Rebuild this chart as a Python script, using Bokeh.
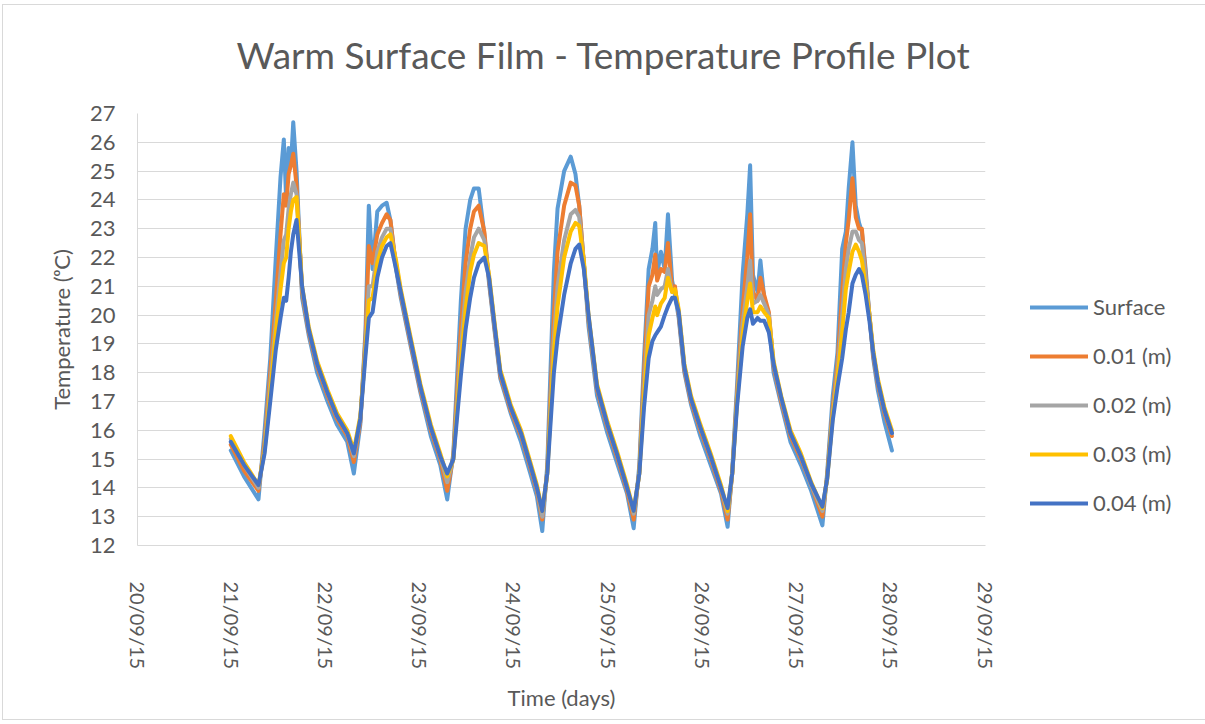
from datetime import datetime, timedelta

from bokeh.plotting import figure
from bokeh.models import (Range1d, FixedTicker, DatetimeTickFormatter, Legend,
                          LegendItem, ColumnDataSource, Title)
from bokeh.embed import file_html
from bokeh.resources import INLINE

# ---------------- data (days since 20/09/15 00:00) ----------------
days = [
    0.990, 1.130, 1.284, 1.349, 1.409, 1.468, 1.518, 1.553, 1.578, 1.604, 1.628, 1.653, 1.688, 1.747, 1.817, 1.907, 2.017, 2.116, 2.226, 2.296,
    2.365, 2.420, 2.455, 2.495, 2.545, 2.595, 2.644, 2.684, 2.744, 2.794, 2.894, 3.003, 3.113, 3.213, 3.287,
    3.352, 3.432, 3.482, 3.531, 3.571, 3.621, 3.681, 3.731, 3.791, 3.850, 3.960, 4.070, 4.169, 4.239, 4.296,
    4.349, 4.419, 4.458, 4.528, 4.598, 4.648, 4.688, 4.737, 4.787, 4.877, 4.987, 5.096, 5.196, 5.266,
    5.326, 5.376, 5.425, 5.465, 5.495, 5.515, 5.555, 5.595, 5.630, 5.674, 5.704, 5.744, 5.804, 5.874, 5.974, 6.083, 6.193, 6.263,
    6.312, 6.362, 6.422, 6.472, 6.502, 6.532, 6.581, 6.611, 6.651, 6.701, 6.751, 6.831, 6.930, 7.040, 7.150, 7.269,
    7.319, 7.379, 7.429, 7.479, 7.518, 7.548, 7.588, 7.623, 7.658, 7.688, 7.728, 7.768, 7.808, 7.857, 7.927, 8.007,
]

surface = [
    15.3, 14.4, 13.6, 16.0, 18.5, 22.0, 24.8, 26.1, 24.0, 25.8, 25.2, 26.7, 25.0, 20.6, 19.3, 18.0, 17.0, 16.2, 15.6, 14.5,
    16.2, 19.5, 23.8, 21.6, 23.6, 23.8, 23.9, 23.3, 21.6, 20.6, 19.0, 17.3, 15.8, 14.8, 13.6,
    15.2, 20.5, 23.0, 24.0, 24.4, 24.4, 22.8, 21.1, 19.4, 17.8, 16.6, 15.6, 14.5, 13.7, 12.5,
    14.8, 21.5, 23.7, 25.0, 25.5, 24.9, 23.8, 21.8, 19.6, 17.2, 15.9, 14.8, 13.8, 12.6,
    14.8, 18.5, 21.6, 22.3, 23.2, 21.4, 22.2, 21.6, 23.5, 21.2, 20.7, 19.9, 18.0, 16.9, 15.8, 14.8, 13.8, 12.65,
    14.6, 17.5, 21.4, 23.5, 25.2, 21.4, 20.8, 21.9, 20.6, 19.8, 18.0, 16.9, 15.6, 14.8, 13.9, 12.7,
    14.5, 17.2, 18.7, 22.3, 22.9, 24.4, 26.0, 23.8, 23.2, 22.9, 21.6, 20.0, 18.5, 17.4, 16.3, 15.3,
]

d001 = [
    15.5, 14.6, 13.9, 15.6, 18.0, 20.5, 22.8, 24.2, 23.8, 24.9, 25.2, 25.6, 24.5, 20.8, 19.4, 18.2, 17.2, 16.4, 15.8, 14.9,
    16.3, 19.2, 22.4, 21.8, 22.8, 23.2, 23.5, 23.3, 21.7, 20.7, 19.1, 17.4, 16.0, 15.0, 13.9,
    15.1, 19.5, 21.8, 23.0, 23.6, 23.8, 22.9, 21.2, 19.5, 17.9, 16.7, 15.8, 14.7, 13.9, 12.9,
    14.6, 20.0, 22.2, 23.8, 24.6, 24.5, 23.8, 21.8, 19.8, 17.4, 16.1, 15.0, 13.9, 12.9,
    14.6, 18.0, 21.0, 21.4, 22.1, 21.2, 21.6, 21.5, 22.5, 20.9, 21.0, 20.0, 18.1, 17.0, 16.0, 15.0, 13.9, 12.9,
    14.5, 17.2, 20.2, 22.0, 23.5, 20.8, 20.5, 21.3, 20.7, 20.1, 18.2, 17.0, 15.8, 15.0, 14.1, 13.0,
    14.4, 16.8, 18.3, 20.8, 22.5, 23.3, 24.75, 23.4, 23.0, 23.0, 21.4, 20.0, 18.6, 17.6, 16.6, 15.8,
]

d002 = [
    15.7, 14.8, 14.0, 15.4, 17.6, 19.8, 21.5, 22.6, 22.8, 23.7, 24.2, 24.6, 24.2, 20.9, 19.5, 18.3, 17.3, 16.5, 15.9, 15.1,
    16.4, 18.9, 21.0, 21.0, 22.2, 22.7, 23.0, 23.0, 21.8, 20.8, 19.2, 17.5, 16.1, 15.1, 14.2,
    15.0, 18.8, 20.8, 22.0, 22.7, 23.0, 22.6, 21.3, 19.6, 18.0, 16.8, 15.9, 14.8, 14.0, 13.0,
    14.5, 19.2, 21.0, 22.6, 23.5, 23.65, 23.4, 21.8, 19.9, 17.5, 16.2, 15.1, 14.0, 13.1,
    14.5, 17.5, 20.0, 20.5, 21.0, 20.7, 20.9, 21.0, 21.6, 20.8, 20.8, 20.1, 18.2, 17.1, 16.1, 15.1, 14.0, 13.1,
    14.5, 17.0, 19.7, 21.0, 21.9, 20.4, 20.5, 20.7, 20.4, 20.0, 18.3, 17.1, 15.9, 15.1, 14.1, 13.2,
    14.3, 16.6, 18.0, 20.0, 21.6, 22.3, 22.9, 22.9, 22.6, 22.5, 21.3, 20.0, 18.7, 17.7, 16.7, 15.9,
]

d003 = [
    15.8, 14.9, 14.1, 15.3, 17.3, 19.4, 20.9, 21.8, 22.0, 23.0, 23.6, 24.0, 24.1, 21.0, 19.6, 18.4, 17.4, 16.6, 16.0, 15.3,
    16.5, 18.8, 20.5, 20.6, 21.8, 22.4, 22.7, 22.8, 21.9, 20.9, 19.3, 17.6, 16.2, 15.2, 14.4,
    15.0, 18.4, 20.2, 21.5, 22.1, 22.5, 22.4, 21.4, 19.7, 18.1, 16.9, 16.0, 14.9, 14.1, 13.2,
    14.5, 18.7, 20.3, 22.0, 22.9, 23.2, 23.1, 21.9, 20.0, 17.6, 16.3, 15.2, 14.1, 13.2,
    14.5, 17.2, 19.3, 19.9, 20.3, 20.0, 20.4, 20.6, 21.3, 20.8, 20.9, 20.2, 18.3, 17.2, 16.2, 15.2, 14.1, 13.2,
    14.5, 16.9, 19.3, 20.5, 21.1, 20.1, 20.1, 20.3, 20.1, 19.9, 18.4, 17.2, 16.0, 15.2, 14.2, 13.3,
    14.3, 16.5, 17.8, 19.4, 20.9, 21.5, 22.2, 22.45, 22.2, 21.9, 21.0, 20.0, 18.8, 17.8, 16.8, 16.0,
]

d004 = [
    15.6, 14.8, 14.1, 15.2, 17.0, 18.8, 19.9, 20.6, 20.5, 21.3, 22.2, 22.8, 23.3, 21.0, 19.5, 18.3, 17.3, 16.5, 15.9, 15.2,
    16.4, 18.6, 19.9, 20.1, 21.3, 22.0, 22.4, 22.5, 21.6, 20.8, 19.2, 17.5, 16.1, 15.1, 14.5,
    15.0, 17.9, 19.5, 20.6, 21.3, 21.8, 22.0, 21.3, 19.6, 18.0, 16.8, 15.9, 14.8, 14.0, 13.2,
    14.5, 18.0, 19.2, 20.7, 21.8, 22.3, 22.45, 21.6, 20.0, 17.5, 16.2, 15.1, 14.0, 13.2,
    14.5, 16.8, 18.5, 19.1, 19.3, 19.4, 19.6, 20.0, 20.3, 20.6, 20.6, 20.1, 18.2, 17.1, 16.1, 15.1, 14.0, 13.3,
    14.5, 16.8, 18.9, 19.9, 20.2, 19.7, 19.9, 19.8, 19.8, 19.4, 18.3, 17.15, 15.9, 15.1, 14.15, 13.35,
    14.3, 16.35, 17.5, 18.5, 19.5, 20.1, 21.1, 21.4, 21.6, 21.4, 20.7, 19.8, 18.7, 17.7, 16.7, 15.9,
]

series_names = ["Surface", "0.01 (m)", "0.02 (m)", "0.03 (m)", "0.04 (m)"]
series_values = [surface, d001, d002, d003, d004]
series_colors = ["#5B9BD5", "#ED7D31", "#A5A5A5", "#FFC000", "#4472C4"]

y_ticks = list(range(12, 28))
x_tick_days = list(range(0, 10))

# ---------------- figure ----------------
base = datetime(2015, 9, 20)
times = [base + timedelta(days=d) for d in days]

FONT = "Lato"
TXT = "#595959"

p = figure(
    x_axis_type="datetime",
    frame_width=848, frame_height=432,
    min_border_left=134, min_border_right=212,
    min_border_top=108, min_border_bottom=174,
    x_range=Range1d(base, base + timedelta(days=9)),
    y_range=Range1d(12, 27),
    output_backend="svg", toolbar_location=None,
    background_fill_color="white", border_fill_color="white",
    margin=(4, 0, 0, 2),
    styles={"border": "1px solid #d9d9d9"},
)
p.outline_line_color = None

renderers = []
for name, vals, col in zip(series_names, series_values, series_colors):
    src = ColumnDataSource(data=dict(t=times, v=vals))
    r = p.line("t", "v", source=src, line_color=col, line_width=4,
               line_join="round", line_cap="round")
    renderers.append(r)

# axes
p.xaxis.ticker = FixedTicker(ticks=[(base + timedelta(days=d)).timestamp() * 1000 for d in x_tick_days])
fmt = "%d/%m/%y"
p.xaxis.formatter = DatetimeTickFormatter(
    microseconds=fmt, milliseconds=fmt, seconds=fmt, minsec=fmt, minutes=fmt,
    hourmin=fmt, hours=fmt, days=fmt, months=fmt, years=fmt)
p.xaxis.major_label_orientation = -3.14159265 / 2
p.yaxis.ticker = FixedTicker(ticks=y_ticks)

for ax in (p.xaxis[0], p.yaxis[0]):
    ax.axis_line_color = "#d9d9d9"
    ax.axis_line_width = 1
    ax.major_tick_line_color = None
    ax.minor_tick_line_color = None
    ax.major_tick_out = 0
    ax.major_tick_in = 0
    ax.major_label_text_font = FONT
    ax.major_label_text_color = TXT
    ax.axis_label_text_font = FONT
    ax.axis_label_text_color = TXT
    ax.axis_label_text_font_size = "22px"
    ax.axis_label_text_font_style = "normal"

p.xaxis.major_label_text_font_size = "20px"
p.yaxis.major_label_text_font_size = "22px"
p.xaxis.axis_label = "Time (days)"
p.yaxis.axis_label = "Temperature (ᵒC)"
p.xaxis.major_label_standoff = 36
p.yaxis.major_label_standoff = 22
p.xaxis.axis_label_standoff = 12
p.yaxis.axis_label_standoff = 12

p.xgrid.visible = False
p.ygrid.grid_line_color = "#d9d9d9"
p.ygrid.grid_line_width = 1

# title (a thin spacer panel lifts it away from the frame)
spacer = Title(text=" ", text_font_size="1px", standoff=29)
p.add_layout(spacer, "above")
p.title.text = "Warm Surface Film - Temperature Profile Plot"
p.title.align = "left"
p.title.offset = 99
p.title.standoff = 10
p.title.text_font = FONT
p.title.text_font_size = "37px"
p.title.text_font_style = "normal"
p.title.text_color = TXT

# legend (in the right side panel)
legend = Legend(
    items=[LegendItem(label=n, renderers=[r]) for n, r in zip(series_names, renderers)],
    location=(45, 29), orientation="vertical",
    glyph_width=58, glyph_height=20, label_height=20, spacing=22,
    label_standoff=5, padding=0, margin=0,
    border_line_color=None, background_fill_alpha=0,
    label_text_font=FONT, label_text_font_size="22px", label_text_color=TXT,
)
p.add_layout(legend, "right")

open("out.html", "w").write(file_html(p, INLINE))
